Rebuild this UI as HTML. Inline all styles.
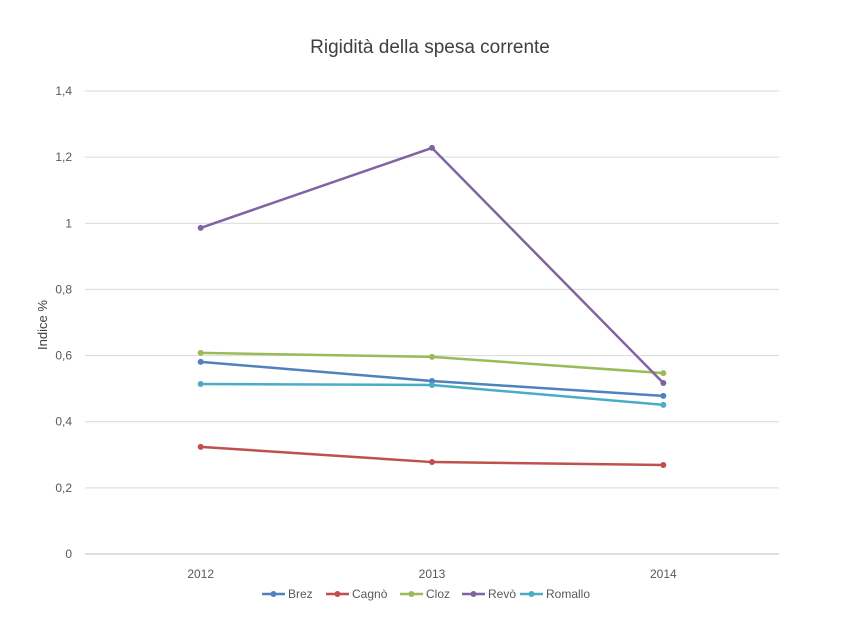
<!DOCTYPE html>
<html><head><meta charset="utf-8"><style>
body{margin:0;background:#fff;}
svg{display:block;font-family:"Liberation Sans",sans-serif;}
</style></head><body>
<svg id="chart" width="850" height="638">
<text x="430" y="53" text-anchor="middle" font-size="19" fill="#404040">Rigidità della spesa corrente</text>
<text transform="translate(47,325) rotate(-90)" text-anchor="middle" font-size="13" fill="#404040">Indice %</text>
<g id="grid"></g><g id="series"></g><g id="legend"></g>
</svg>
<script>
const categories=["2012","2013","2014"];
const yTicks=[0,0.2,0.4,0.6,0.8,1,1.2,1.4];
const yTickLabels=["0","0,2","0,4","0,6","0,8","1","1,2","1,4"];
const seriesNames=["Brez","Cagnò","Cloz","Revò","Romallo"];
const brez=[0.581,0.523,0.478];
const cagno=[0.324,0.278,0.269];
const cloz=[0.608,0.596,0.547];
const revo=[0.986,1.228,0.517];
const romallo=[0.514,0.511,0.451];
const allSeries=[brez,cagno,cloz,revo,romallo];
const colors=["#4f81bd","#c0504d","#9bbb59","#8064a2","#4bacc6"];
const NS="http://www.w3.org/2000/svg";
const x0=85,x1=779,yBase=554,yTop=91,yMax=1.4;
function y(v){return yBase-(v/yMax)*(yBase-yTop);}
function x(i){return x0+(x1-x0)/categories.length*(i+0.5);}
function mk(t,a,p){const e=document.createElementNS(NS,t);for(const k in a)e.setAttribute(k,a[k]);p.appendChild(e);return e;}
const grid=document.getElementById('grid');
yTicks.forEach((v,i)=>{
 const l=mk('line',{x1:x0,x2:x1,y1:y(v),y2:y(v),stroke:i===0?'#bfbfbf':'#d9d9d9','stroke-width':1},grid);
 
 
 const t=mk('text',{x:72,y:y(v)+4,'text-anchor':'end','font-size':12,fill:'#595959'},grid);
 t.textContent=yTickLabels[i];
 
 
});
categories.forEach((c,i)=>{
 const t=mk('text',{x:x(i),y:578,'text-anchor':'middle','font-size':12,fill:'#595959'},grid);
 t.textContent=c;
 
 
});
const sg=document.getElementById('series');
allSeries.forEach((s,k)=>{
 const p=mk('polyline',{points:s.map((v,i)=>x(i)+','+y(v)).join(' '),fill:'none',stroke:colors[k],'stroke-width':2.5},sg);
 
 
 s.forEach((v,i)=>{
  const c=mk('circle',{cx:x(i),cy:y(v),r:3,fill:colors[k]},sg);
  
  
 });
});
const lg=document.getElementById('legend');
const lx=[262,326,400,462,520];
seriesNames.forEach((n,k)=>{
 const g=mk('g',{},lg);
 
 
 mk('line',{x1:lx[k],x2:lx[k]+23,y1:594,y2:594,stroke:colors[k],'stroke-width':2.5},g);
 mk('circle',{cx:lx[k]+11.5,cy:594,r:3,fill:colors[k]},g);
 const t=mk('text',{x:lx[k]+26,y:598,'font-size':12,fill:'#595959'},g);
 t.textContent=n;
});
</script>
</body></html>
